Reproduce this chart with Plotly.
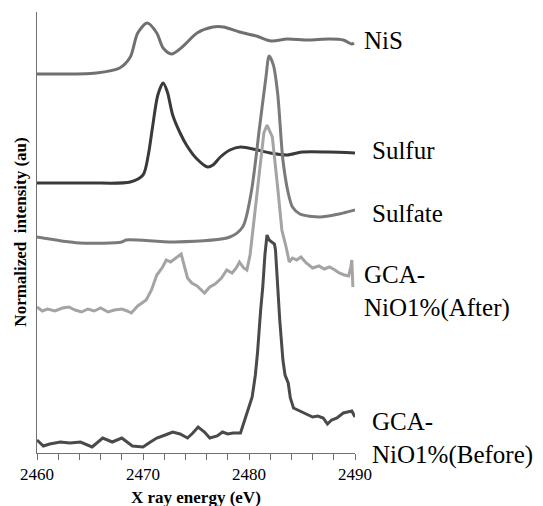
import plotly.graph_objects as go

# X-ray energy (eV) and normalized intensity (arbitrary units, stacked offsets as drawn)
nis_e = [2460, 2465.6, 2467.8, 2468.8, 2469.5, 2470.4, 2471.3, 2471.9, 2472.7, 2473.7, 2475.1,
         2476.6, 2477.6, 2479.1, 2480.7, 2482.1, 2483.6, 2485.5, 2487.6, 2488.9, 2489.7, 2489.9]
nis_i = [379, 380, 385, 396, 420, 430, 420, 405, 399, 406, 420,
         426, 426, 421, 417, 412, 414, 413, 414, 413, 409, 410]

sulfur_e = [2460, 2465, 2468.8, 2470, 2470.5, 2470.9, 2471.4, 2471.9, 2472.3, 2472.8, 2473.5, 2474.1,
            2475, 2476.1, 2476.6, 2477.3, 2478.2, 2479.2, 2480.8, 2482, 2483.6, 2485, 2487.5, 2490]
sulfur_i = [270, 270, 271, 278, 298, 326, 358, 370, 361, 338, 320, 308,
            295, 286, 288, 296, 303, 306, 303, 300, 298, 301, 301, 300]

sulfate_e = [2460, 2464, 2468, 2468.4, 2473, 2478.2, 2479.4, 2480.2, 2481, 2481.6, 2481.9, 2482.3,
             2482.7, 2483.2, 2483.7, 2484.1, 2484.8, 2486.7, 2488.5, 2490]
sulfate_i = [216, 210, 211, 213, 211, 216, 226, 260, 326, 376, 397, 388,
             360, 293, 260, 246, 239, 236, 239, 243]

after_e = [2460, 2460.5, 2461, 2461.7, 2462.4, 2463, 2463.6, 2464.2, 2464.8, 2465.4,
           2466, 2466.7, 2467.3, 2468, 2468.5, 2468.9, 2469.5, 2470.3, 2470.8, 2471.3,
           2471.8, 2472.2, 2472.6, 2473.1, 2473.6, 2474.2, 2474.6, 2475.1, 2475.8, 2476.3,
           2476.8, 2477.4, 2477.9, 2478.4, 2478.8, 2479.1, 2479.5, 2479.8, 2480.1, 2480.4,
           2480.8, 2481.4, 2481.7, 2482.2, 2482.7, 2483.1, 2483.5, 2483.8, 2484.1, 2484.5,
           2484.9, 2485.4, 2486.0, 2486.6, 2487.1, 2487.6, 2488.1, 2488.5, 2489, 2489.4,
           2489.6, 2489.7, 2489.8]
after_i = [146, 142, 144, 142, 145, 146, 143, 141, 144, 142,
           145, 141, 143, 144, 142, 140, 147, 153, 163, 178,
           185, 193, 191, 195, 199, 175, 170, 167, 160, 166,
           169, 175, 183, 180, 185, 191, 185, 183, 198, 226,
           266, 320, 328, 316, 266, 223, 206, 191, 195, 193,
           196, 190, 185, 187, 184, 186, 183, 180, 178, 177,
           186, 193, 166]

before_e = [2460, 2460.6, 2461.2, 2462.2, 2463.1, 2464.1, 2465.2, 2466.2, 2467.1, 2468.0,
            2469.0, 2470.0, 2470.7, 2471.3, 2472.1, 2472.8, 2473.5, 2474.2, 2474.7, 2475.2,
            2475.8, 2476.3, 2477.0, 2477.5, 2478.0, 2478.5, 2479.2, 2479.6, 2480.0, 2480.3,
            2480.6, 2480.8, 2481.1, 2481.3, 2481.5, 2481.7, 2481.9, 2482.1, 2482.4, 2482.5,
            2482.7, 2482.9, 2483.2, 2483.4, 2483.7, 2483.9, 2484.2, 2484.6, 2485.1, 2485.6,
            2486.0, 2486.5, 2487.0, 2487.4, 2487.8, 2488.3, 2488.9, 2489.3, 2489.7, 2490.0]
before_i = [13, 7, 9, 11, 10, 11, 6, 15, 11, 15,
            7, 6, 11, 15, 18, 21, 19, 15, 20, 26,
            21, 15, 17, 21, 19, 20, 20, 33, 48, 56,
            78, 100, 143, 166, 198, 218, 213, 211, 209, 203,
            163, 133, 93, 78, 70, 55, 45, 43, 41, 38,
            36, 37, 35, 29, 33, 35, 40, 41, 42, 36]

series = [
    ("NiS", nis_e, nis_i, "#707070", "spline"),
    ("Sulfur", sulfur_e, sulfur_i, "#3a3a3a", "spline"),
    ("Sulfate", sulfate_e, sulfate_i, "#7a7a7a", "spline"),
    ("GCA-NiO1%(After)", after_e, after_i, "#a4a4a4", "linear"),
    ("GCA-NiO1%(Before)", before_e, before_i, "#4a4a4a", "linear"),
]

fig = go.Figure()
for name, xs, ys, col, shp in series:
    fig.add_trace(go.Scatter(x=xs, y=ys, mode="lines", name=name,
                             line=dict(color=col, width=3, shape=shp, smoothing=0.8)))

serif = "Times New Roman, Liberation Serif, DejaVu Serif, serif"
labels = [
    ("NiS", 1.022, 0.936),
    ("Sulfur", 1.047, 0.687),
    ("Sulfate", 1.047, 0.544),
    ("GCA-<br>NiO1%(After)", 1.022, 0.367),
    ("GCA-<br>NiO1%(Before)", 1.047, 0.032),
]
for txt, px, py in labels:
    fig.add_annotation(text=txt, xref="paper", yref="paper", x=px, y=py,
                       xanchor="left", yanchor="middle", align="left", showarrow=False,
                       font=dict(family=serif, size=25, color="#000000"))

fig.add_annotation(text="<b>X ray energy (eV)</b>", xref="paper", yref="paper",
                   x=0.5, y=-0.1, xanchor="center", yanchor="middle", showarrow=False,
                   font=dict(family=serif, size=17, color="#000000"))
fig.add_annotation(text="<b>Normalized  intensity (au)</b>", xref="paper", yref="paper",
                   x=-0.053, y=0.5, xanchor="center", yanchor="middle", showarrow=False,
                   textangle=-90, font=dict(family=serif, size=17, color="#000000"))

fig.update_layout(
    width=543, height=506,
    margin=dict(l=37, r=188, t=12, b=53),
    plot_bgcolor="white", paper_bgcolor="white",
    showlegend=False,
    font=dict(family=serif),
    xaxis=dict(range=[2460, 2490], showgrid=False, zeroline=False,
               showline=True, linecolor="#707070", linewidth=1,
               ticks="outside", ticklen=6, tickcolor="#707070", tickwidth=1,
               dtick=10, tick0=2460,
               minor=dict(dtick=2, ticks="outside", ticklen=6, tickcolor="#707070", showgrid=False),
               tickfont=dict(family=serif, size=17, color="#000000")),
    yaxis=dict(range=[0, 441], showgrid=False, zeroline=False,
               showline=True, linecolor="#707070", linewidth=1,
               showticklabels=False, ticks=""),
)

fig.write_html("out.html")
